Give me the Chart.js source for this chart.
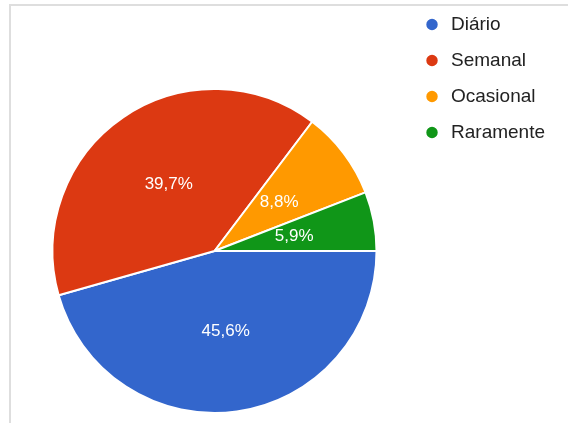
<!DOCTYPE html>
<html>
<head>
<meta charset="utf-8">
<script src="https://cdn.jsdelivr.net/npm/chart.js@4/dist/chart.umd.min.js"></script>
<style>
  html, body { margin: 0; padding: 0; background: #fff; }
  #wrap { position: relative; width: 568px; height: 423px; overflow: hidden; }
  #frame { position: absolute; left: 9px; top: 4px; right: -4px; bottom: -4px;
           border-top: 2px solid #dedede; border-left: 2px solid #dedede; }
  #c { position: absolute; left: 0; top: -2px; }
</style>
</head>
<body>
<div id="wrap">
  <div id="frame"></div>
  <canvas id="c" width="568" height="506"></canvas>
</div>
<script>
const categories = ['Diário', 'Semanal', 'Ocasional', 'Raramente'];
const percentages = [45.6, 39.7, 8.8, 5.9];
const sliceColors = ['#3366cc', '#dc3912', '#ff9900', '#109618'];

const FONT = "'Liberation Sans', Arial, Helvetica, sans-serif";

const sliceLabels = {
  id: 'sliceLabels',
  afterDatasetsDraw(chart) {
    const ctx = chart.ctx;
    const meta = chart.getDatasetMeta(0);
    const data = chart.data.datasets[0].data;
    ctx.save();
    ctx.font = '17px ' + FONT;
    ctx.fillStyle = '#ffffff';
    ctx.textAlign = 'center';
    ctx.textBaseline = 'middle';
    meta.data.forEach((arc, i) => {
      const p = arc.tooltipPosition();
      const txt = data[i].toFixed(1).replace('.', ',') + '%';
      ctx.fillText(txt, p.x, p.y);
    });
    ctx.restore();
  }
};

new Chart(document.getElementById('c'), {
  type: 'pie',
  data: {
    labels: categories,
    datasets: [{
      data: percentages,
      backgroundColor: sliceColors,
      borderColor: '#ffffff',
      borderWidth: 2,
      radius: 162
    }]
  },
  options: {
    responsive: false,
    animation: false,
    rotation: 90,
    layout: { padding: { left: 23.5, right: 13, top: 0, bottom: 0 } },
    plugins: {
      tooltip: { enabled: false },
      legend: {
        position: 'right',
        align: 'start',
        labels: {
          usePointStyle: true,
          pointStyle: 'circle',
          boxWidth: 25,
          boxHeight: 9.5,
          padding: 17,
          color: '#222222',
          font: { size: 19, family: FONT }
        }
      }
    }
  },
  plugins: [sliceLabels]
});
</script>
</body>
</html>
